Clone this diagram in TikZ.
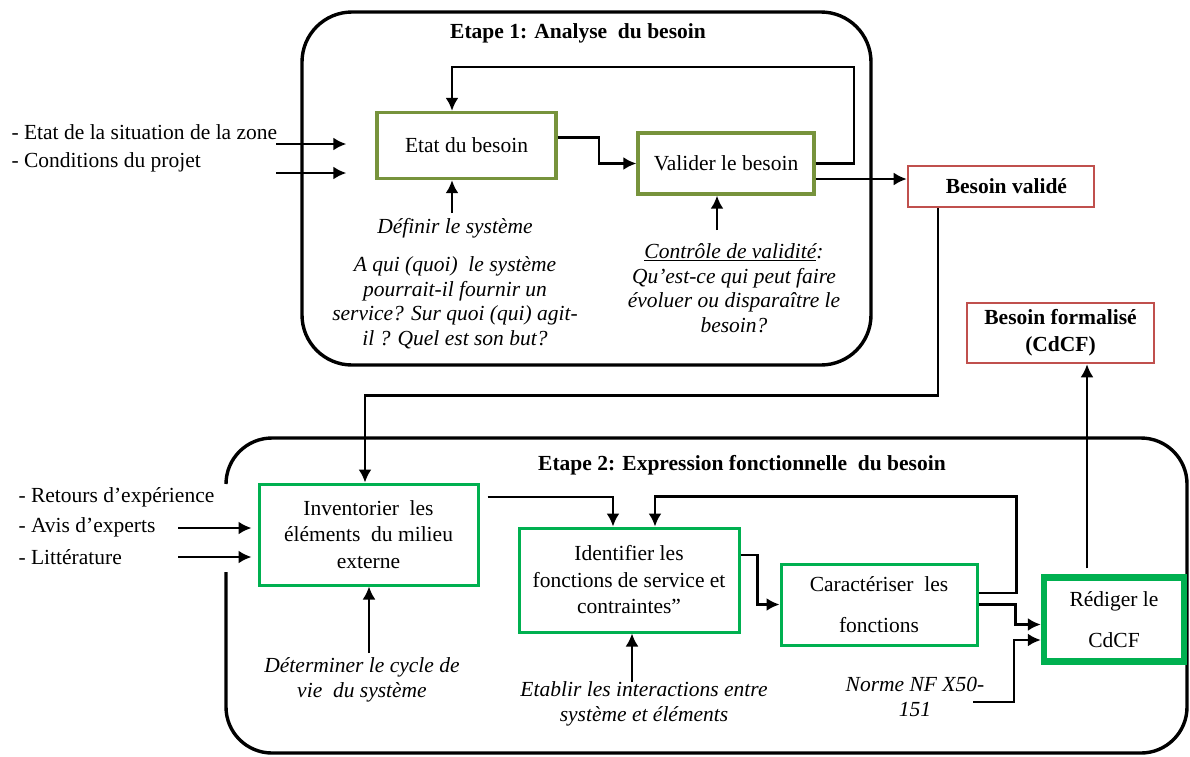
\documentclass[tikz,border=0pt]{standalone}
\usepackage{fontspec}
\setmainfont{Liberation Serif}
\usetikzlibrary{calc,arrows.meta}
\definecolor{olivebord}{HTML}{77933C}
\definecolor{vertbord}{HTML}{00B050}
\definecolor{rougebord}{HTML}{C0504D}
\tikzset{
	etape/.style={line width=3.4pt, rounded corners=50pt},
	olivebox/.style={draw=olivebord, line width=3.4pt, fill=white, align=center},
	vertbox/.style={draw=vertbord, line width=3pt, fill=white, align=center},
	redigebox/.style={draw=vertbord, line width=6.5pt, fill=white, align=center},
	rougebox/.style={draw=rougebord, line width=2.6pt, fill=white, align=center, font=\fontsize{21.5}{27}\selectfont\bfseries},
	conn/.style={line width=2.3pt, -{Latex[length=13pt,width=13pt]}},
	remarque/.style={align=center, font=\fontsize{21.5}{24.5}\selectfont\itshape}
}
\begin{document}
\begin{tikzpicture}[x=1pt, y=-1pt, font=\fontsize{21.5}{26.5}\selectfont]
			%%%%% START %%%%%
			\useasboundingbox (0,0) rectangle (1190,756);
			
			% Etape 1
			\draw[etape] (302,12) rectangle (871,365);
			\node (titre1) at (578,33) {\bfseries Etape 1: Analyse\ \ du besoin};
			
			\node[olivebox, minimum width=179pt, minimum height=66pt] (Etat) at (466.5,145.5) {Etat du besoin};
			\node[olivebox, minimum width=176pt, minimum height=61pt] (Valider) at (726,163.5) {Valider le besoin};
			\node[rougebox, minimum width=186pt, minimum height=41pt] (Bval) at (1001,186.5) {\ \ Besoin validé};
			\node[rougebox, minimum width=187pt, minimum height=60pt] (Bform) at (1060.5,333) {Besoin formalisé\\(CdCF)};
			
			\node[anchor=west] (in1) at (8,132) {- Etat de la situation de la zone};
			\node[anchor=west] (in2) at (8,162) {- Conditions du projet};
			\coordinate (ina) at (276,144);
			\coordinate (inb) at (276,173);
			\draw[conn, shorten >=29pt] (ina) -- (ina -| Etat.west);
			\draw[conn, shorten >=29pt] (inb) -- (inb -| Etat.west);
			
			\node[remarque] (def) at (455,228) {Définir le système};
			\node[remarque] (aqui) at (455,303) {A qui (quoi)\ \ le système\\pourrait-il fournir un\\service? Sur quoi (qui) agit-\\il ? Quel est son but?};
			\coordinate (defa) at (452,213);
			\draw[conn] (defa) -- (defa |- Etat.south);
			
			\node[remarque] (ctl) at (734,288) {\underline{Contrôle de validité}:\\Qu’est-ce qui peut faire\\évoluer ou disparaître le\\besoin?};
			\coordinate (ctla) at (717,230);
			\draw[conn] (ctla) -- (ctla |- Valider.south);
			
			\draw[conn] ($(Etat.east)+(0,-8)$) -- ++(41,0) |- (Valider.west);
			\draw[conn] (Valider.east) -| (854,67) -| ($(Etat.north)+(-14.5,0)$);
			\coordinate (vout) at ($(Valider.east)+(0,15.5)$);
			\draw[conn] (vout) -- (vout -| Bval.west);
			
			% Etape 2
			\draw[etape, rounded corners=46pt] (226,484) -- (226,438) -- (1187,438) -- (1187,753) -- (226,753) -- (226,572);
			\node (titre2) at (742,465) {\bfseries Etape 2: Expression fonctionnelle\ \ du besoin};
			
			\node[vertbox, minimum width=219pt, minimum height=101pt] (Inv) at (368.5,534.5) {Inventorier\ \ les\\éléments\ \ du milieu\\externe};
			\node[vertbox, minimum width=220pt, minimum height=104pt] (Ident) at (629,580) {Identifier les\\fonctions de service et\\contraintes”};
			\node[vertbox, minimum width=196pt, minimum height=81pt] (Car) at (879,604.5) {Caractériser\ \ les\\[14pt]fonctions};
			\node[redigebox, minimum width=140pt, minimum height=84pt] (Red) at (1114,619.5) {Rédiger le\\[14pt]CdCF};
			
			\node[anchor=west] (in3) at (15,497) {- Retours d’expérience};
			\node[anchor=west] (in4) at (15,527) {- Avis d’experts};
			\node[anchor=west] (in5) at (15,557) {- Littérature};
			\coordinate (inc) at (178,528);
			\coordinate (ind) at (178,557);
			\draw[conn, shorten >=6pt] (inc) -- (inc -| Inv.west);
			\draw[conn, shorten >=6pt] (ind) -- (ind -| Inv.west);
			
			\node[remarque] (det) at (362,680) {Déterminer le cycle de\\vie\ \ du système};
			\coordinate (deta) at (369,653);
			\draw[conn] (deta) -- (deta |- Inv.south);
			
			\node[remarque] (etab) at (644,704) {Etablir les interactions entre\\système et éléments};
			\coordinate (etaba) at (632,682);
			\draw[conn] (etaba) -- (etaba |- Ident.south);
			
			\node[remarque] (norme) at (915,697) {Norme NF X50-\\151};
			\coordinate (normea) at (973,702);
			\draw[conn] (normea) -- ++(41,0) |- ($(Red.west)+(0,20.5)$);
			
			\coordinate (bv) at ($(Bval.south)+(-63,0)$);
			\draw[conn] (bv) |- ($(Inv.north)+(-3.5,-87)$) -- ($(Inv.north)+(-3.5,0)$);
			
			\coordinate (ia) at ($(Inv.east)+(8,-37.5)$);
			\draw[conn] (ia) -| ($(Ident.north)+(-16,0)$);
			\draw[conn] ($(Car.east)+(0,-11.5)$) -- ++(38,0) |- ($(Ident.north)+(26,-30)$) -- ($(Ident.north)+(26,0)$);
			\draw[conn] ($(Ident.east)+(0,-25)$) -- ++(17,0) |- (Car.west);
			\draw[conn] (Car.east) -- ++(37,0) |- ($(Red.west)+(0,5)$);
			
			\coordinate (ra) at ($(Red.north)+(-27,-6)$);
			\draw[conn] (ra) -- (ra |- Bform.south);
			%%%%% END %%%%%
\end{tikzpicture}
\end{document}
